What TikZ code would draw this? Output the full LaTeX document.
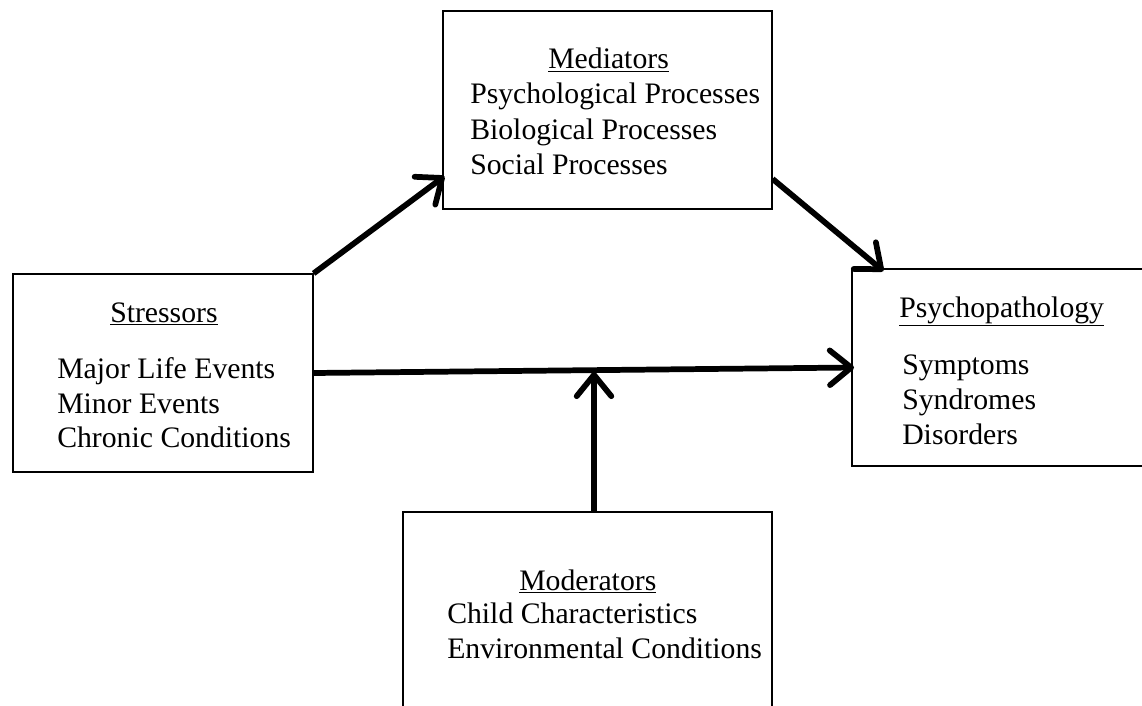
\documentclass[tikz,border=0pt]{standalone}
\usepackage{fontspec}
\setmainfont{Liberation Serif}
\usetikzlibrary{arrows.meta}
\tikzset{
  box/.style={rectangle, draw, line width=0.9pt, inner sep=0pt},
  txt/.style={anchor=base west, inner sep=0pt, font=\fontsize{22.3}{26}\selectfont},
  line/.style={line width=4.3pt, -{Straight Barb[length=16pt, width=26pt, line cap=round, line join=round]}}
}

\begin{document}
\begin{tikzpicture}[x=0.75pt, y=-0.75pt]
    \clip (0,0) rectangle (1142,706);
    \fill[white] (0,0) rectangle (1142,706);
    % boxes
    \node[box, minimum width=246.75pt, minimum height=148.5pt] (med) at (607.5,110) {};
    \node[box, minimum width=225pt, minimum height=148.5pt] (str) at (163,373) {};
    \node[box, minimum width=231pt, minimum height=147.75pt] (psy) at (1006,367.5) {};
    \node[box, minimum width=276.75pt, minimum height=156pt] (mod) at (587.5,616) {};
    % texts
    \node[txt] (medt) at (548,69) {\underline{Mediators}};
    \node[txt] (med1) at (470,104) {Psychological Processes};
    \node[txt] (med2) at (470,140) {Biological Processes};
    \node[txt] (med3) at (470,175) {Social Processes};
    \node[txt] (strt) at (110,322) {\underline{Stressors}};
    \node[txt] (str1) at (57,378) {Major Life Events};
    \node[txt] (str2) at (57,413) {Minor Events};
    \node[txt] (str3) at (57,447) {Chronic Conditions};
    \node[txt] (psyt) at (899,317) {\underline{Psychopathology}};
    \node[txt] (psy1) at (902,374) {Symptoms};
    \node[txt] (psy2) at (902,409) {Syndromes};
    \node[txt] (psy3) at (902,444) {Disorders};
    \node[txt] (modt) at (519,590) {\underline{Moderators}};
    \node[txt] (mod1) at (447,623) {Child Characteristics};
    \node[txt] (mod2) at (447,658) {Environmental Conditions};
    % arrows
    \coordinate (hit) at (594,372);
    \draw[line] (str.north east) -- ([xshift=1.5pt, yshift=25pt]med.south west);
    \draw[line] ([yshift=23pt]med.south east) -- ([xshift=24pt, yshift=-2pt]psy.north west);
    \draw[line] (str.east) -- ([xshift=2pt]psy.west);
    \draw[line] ([xshift=4.9pt]mod.north) -- (hit);
  \end{tikzpicture}
\end{document}
